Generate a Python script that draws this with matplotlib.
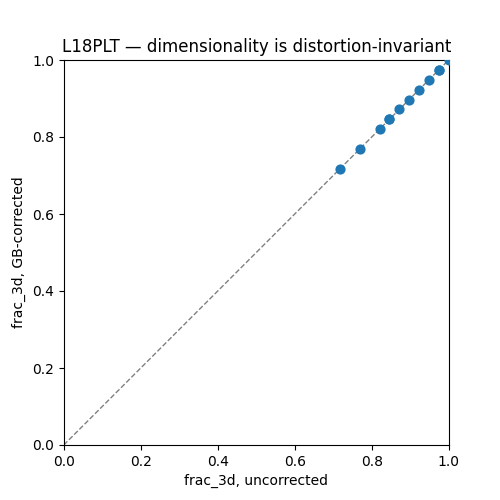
import matplotlib
matplotlib.use("Agg")
import matplotlib.pyplot as plt

frac_uncorr = [0.717, 0.769, 0.821, 0.846, 0.846, 0.872, 0.897, 0.923, 0.949, 0.974, 0.974, 1.0]
frac_corr = [0.717, 0.769, 0.821, 0.846, 0.846, 0.872, 0.897, 0.923, 0.949, 0.974, 0.974, 1.0]

fig, ax = plt.subplots(figsize=(5, 5), dpi=100)
ax.plot([0, 1], [0, 1], ls="--", color="gray", lw=1)
ax.scatter(frac_uncorr, frac_corr, s=40, zorder=3)
ax.set_xlim(0, 1)
ax.set_ylim(0, 1)
ax.set_aspect("equal")
ax.set_xlabel("frac_3d, uncorrected")
ax.set_ylabel("frac_3d, GB-corrected")
ax.set_title("L18PLT — dimensionality is distortion-invariant")
fig.savefig("out.png")
